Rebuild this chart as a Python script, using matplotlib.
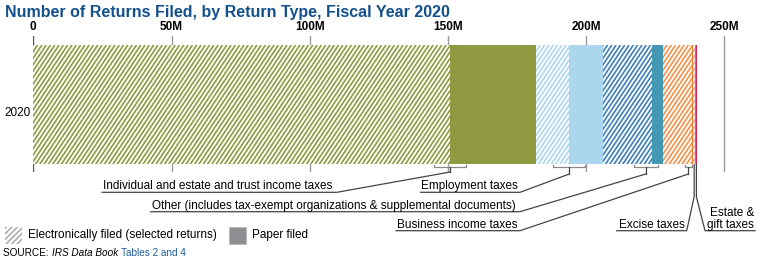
import matplotlib
matplotlib.use("Agg")
import numpy as np
import matplotlib.pyplot as plt
import matplotlib.transforms as mtransforms
from matplotlib.patches import Rectangle
from matplotlib.collections import LineCollection

plt.rcParams['font.family'] = ['Liberation Sans', 'DejaVu Sans']
plt.rcParams['hatch.linewidth'] = 1.1

# data (millions of returns, fiscal year 2020)
year = "2020"
segments = ["Individual e", "Individual paper", "Employment e", "Employment paper",
            "Other e", "Other paper", "Business e", "Business paper",
            "Excise e", "Excise paper", "Estate & gift"]
values = [150.8, 31.1, 11.9, 12.4, 17.7, 3.8, 10.5, 0.6, 0.5, 0.5, 0.5]
efiled = [True, False, True, False, True, False, True, False, True, False, False]
colors = ["#8f9a40", "#8f9a40", "#acd6ee", "#acd6ee", "#3d7fbd", "#4398b3",
          "#f7904a", "#f47f24", "#f2a3c2", "#e6559a", "#d9234f"]
ticks = [0, 50, 100, 150, 200, 250]
tick_labels = ["0", "50M", "100M", "150M", "200M", "250M"]

W, H = 770, 260
XS = 2.764   # px per million
BAR_PX = 119.3  # bar height in px
fig = plt.figure(figsize=(W / 100, H / 100), dpi=100)
ax = fig.add_axes([33.3 / W, 1 - 172 / H, (760 - 33.3) / W, (172 - 36) / H])
ax.set_xlim(0, (760 - 33.3) / XS)
ax.set_ylim(-0.5645, 0.5754)

left = 0
for v, e, c in zip(values, efiled, colors):
    if e:
        bar = ax.barh(0, v, left=left, height=1, color="white", linewidth=0, zorder=2)[0]
        # steep diagonal stripes, clipped to the segment
        rise = BAR_PX / 1.5 / XS
        step = 4.3 / XS
        starts = np.arange(left - rise, left + v + step, step)
        segs = [[(s, -0.5), (s + rise, 0.5)] for s in starts]
        lcol = LineCollection(segs, colors=c, linewidths=1.2, zorder=3)
        ax.add_collection(lcol)
        lcol.set_clip_path(bar)
    else:
        ax.barh(0, v, left=left, height=1, color=c, linewidth=0, zorder=2)
    left += v

# axis styling
for s in ax.spines.values():
    s.set_visible(False)
ax.xaxis.tick_top()
ax.set_xticks(ticks)
ax.set_xticklabels(tick_labels, fontweight="bold", fontsize=8.5)
ax.tick_params(axis="x", length=0, pad=2)
ax.set_yticks([])
for t in ticks:
    ax.axvline(t, color="#555555" if t == 0 else "#9a9a9a", lw=1, zorder=1)
ax.text(-0.003, -0.068, year, transform=mtransforms.blended_transform_factory(ax.transAxes, ax.transData),
        ha="right", va="center", fontsize=8.5)

fig.text(5 / W, 1 - 12 / H, "Number of Returns Filed, by Return Type, Fiscal Year 2020",
         fontsize=11.5, fontweight="bold", color="#14508c", va="center")

# leader lines: x in data units, y in pixels from top
tr = mtransforms.blended_transform_factory(ax.transData, fig.transFigure)
px = lambda x: (x - 33.3) / XS
fy = lambda y: 1 - y / H
lc = "#444444"


def line(xs, ys, col=lc):
    fig.add_artist(plt.Line2D(xs, [fy(y) for y in ys], transform=tr, color=col, lw=0.9, clip_on=False))


def bracket(cx, half, drop):
    line([cx - half, cx - half, cx + half, cx + half], [164.5, 166.5, 166.5, 164.5], "#8a8a8a")
    line([cx, cx], [166.5, drop])


labels = [
    ("Individual and estate and trust income taxes", 150.8, 16, 172, 102, 337, 192.3),
    ("Employment taxes", 193.9, 16, 174, 420.5, 520, 192.3),
    ("Other (includes tax-exempt organizations & supplemental documents)", 221.6, 12, 174, 150.7, 520, 211.7),
    ("Business income taxes", 237.0, 3.5, 174, 396, 520, 230.7),
]
for text, cx, half, drop, x0, x1, uy in labels:
    bracket(cx, half / XS, drop)
    line([px(x0), px(x1), cx], [uy, uy, drop])
    fig.text(x0 / W + 1 / W, fy(uy - 3), text, fontsize=8.5, va="baseline")

# excise and estate & gift
line([px(616.7), px(686.7), 239.1, 239.1], [230.7, 230.7, 196.7, 164.5])
fig.text(685 / W, fy(227.7), "Excise taxes", fontsize=8.5, va="baseline", ha="right")
line([px(755), px(705), 239.9, 239.9], [230.7, 230.7, 196.7, 164.5])
fig.text(754 / W, fy(227.7), "Estate &\ngift taxes", fontsize=8.5, va="baseline", ha="right",
         multialignment="right", linespacing=0.95)

# legend
fig.add_artist(Rectangle((5 / W, fy(243.5)), 17 / W, 17 / H, transform=fig.transFigure,
                         facecolor="white", edgecolor="#a8a8a8", hatch="//////", linewidth=0))
fig.text(28 / W, fy(235), "Electronically filed (selected returns)", fontsize=8.5, va="center")
fig.add_artist(Rectangle((229 / W, fy(243.5)), 17 / W, 17 / H, transform=fig.transFigure,
                         facecolor="#8e8e92", edgecolor="#b8b8b8", linewidth=0.8))
fig.text(252 / W, fy(235), "Paper filed", fontsize=8.5, va="center")

# source line with mixed styles
fig.canvas.draw()
r = fig.canvas.get_renderer()
x = 3 / W
for s, style, col in [("SOURCE: ", "normal", "black"), ("IRS Data Book ", "italic", "black"),
                      ("Tables 2 and 4", "normal", "#1f5c99")]:
    t = fig.text(x, fy(255.5), s, fontsize=7.2, style=style, color=col, va="baseline")
    bb = t.get_window_extent(r)
    x = bb.x1 / W + 0.5 / W

fig.savefig("out.png", dpi=100)
